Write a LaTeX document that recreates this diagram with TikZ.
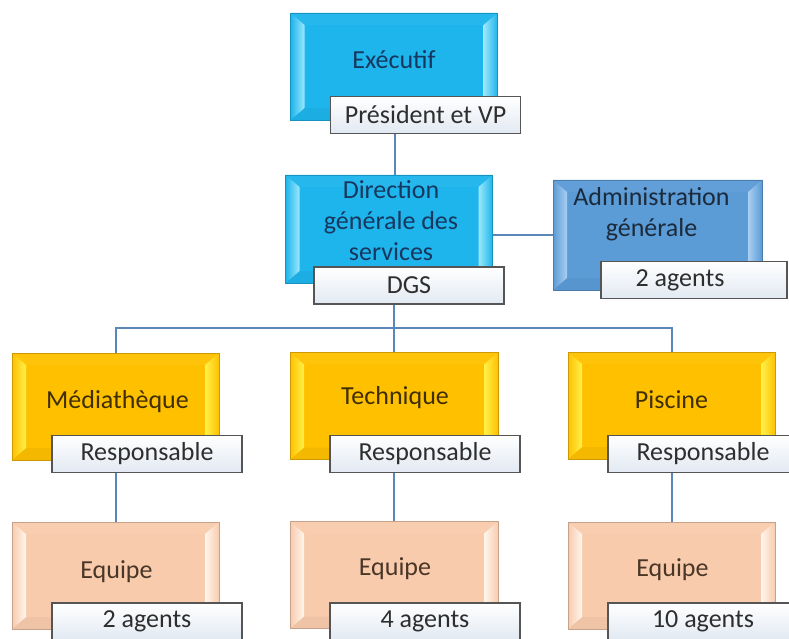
\documentclass[tikz,border=0pt]{standalone}
\usepackage{fontspec}
\setmainfont{Carlito}
\usetikzlibrary{backgrounds,calc}
\definecolor{cyanbase}{HTML}{1DB5EC}
\definecolor{cyanlight}{HTML}{9BE8FB}
\definecolor{cyantext}{HTML}{17375E}
\definecolor{admbase}{HTML}{5B9BD6}
\definecolor{admlight}{HTML}{A9CFF2}
\definecolor{admtext}{HTML}{1C2B3C}
\definecolor{yelbase}{HTML}{FFC000}
\definecolor{yellight}{HTML}{FFF24A}
\definecolor{yeltext}{HTML}{3F2F00}
\definecolor{pchbase}{HTML}{F8CBAD}
\definecolor{pchlight}{HTML}{FFF6EE}
\definecolor{pchtext}{HTML}{4A3626}
\definecolor{lblborder}{HTML}{555555}
\definecolor{lblbottom}{HTML}{E2E9F2}
\definecolor{lbltext}{HTML}{2E2E2E}
\definecolor{conn}{HTML}{5A86B8}
\tikzset{
  bevelbox/.style 2 args={rectangle, minimum width=207pt, minimum height=107pt,
    inner sep=0pt, fill=#1, draw=#1!80!black, line width=0.6pt,
    path picture={
      \coordinate (nw) at (path picture bounding box.north west);
      \coordinate (se) at (path picture bounding box.south east);
      \coordinate (sw) at (nw |- se);
      \coordinate (ne) at (se |- nw);
      \fill[#1!96!white] (nw) -- (ne) -- ($(ne)+(-14pt,-12pt)$) -- ($(nw)+(14pt,-12pt)$) -- cycle;
      \fill[#1!96!black] (sw) -- (se) -- ($(se)+(-14pt,12pt)$) -- ($(sw)+(14pt,12pt)$) -- cycle;
      \shade[left color=#1, right color=#2] (nw) -- (sw) -- ($(sw)+(14pt,12pt)$) -- ($(nw)+(14pt,-12pt)$) -- cycle;
      \shade[left color=#2, right color=#1] (ne) -- (se) -- ($(se)+(-14pt,12pt)$) -- ($(ne)+(-14pt,-12pt)$) -- cycle;
    }},
  lbl/.style={rectangle, minimum width=190pt, minimum height=37pt, inner sep=0pt,
    draw=lblborder, line width=1.2pt, top color=white, bottom color=lblbottom,
    text=lbltext, font=\fontsize{26}{31}\selectfont},
  boxtext/.style={align=center, inner sep=0pt, font=\fontsize{26}{31}\selectfont, text=#1},
  link/.style={draw=conn, line width=2pt}
}
\begin{document}
\begin{tikzpicture}[x=1pt,y=-1pt]
\useasboundingbox (0,0) rectangle (789,639);
% boxes
\node[bevelbox={cyanbase}{cyanlight}] (exec) at (394,66.5) {};
\node[bevelbox={cyanbase}{cyanlight}, minimum height=108pt] (dir) at (389,229) {};
\node[bevelbox={admbase}{admlight}, minimum width=209pt, minimum height=110pt] (adm) at (657.5,235) {};
\node[bevelbox={yelbase}{yellight}] (med) at (115.5,406.5) {};
\node[bevelbox={yelbase}{yellight}, minimum width=208pt] (tech) at (394,406) {};
\node[bevelbox={yelbase}{yellight}] (pisc) at (671.5,405.5) {};
\node[bevelbox={pchbase}{pchlight}] (eqL) at (115.5,575.5) {};
\node[bevelbox={pchbase}{pchlight}, minimum width=208pt] (eqM) at (394,575) {};
\node[bevelbox={pchbase}{pchlight}] (eqR) at (671.5,575.5) {};
% box texts
\node[boxtext=cyantext] (exect) at ($(exec.center)+(0pt,6.5pt)$) {Exécutif};
\node[boxtext=cyantext] (dirt) at ($(dir.center)+(2pt,8pt)$) {Direction\\générale des\\services};
\node[boxtext=admtext] (admt) at ($(adm.center)+(-6pt,21pt)$) {Administration\\générale};
\node[boxtext=yeltext] (medt) at ($(med.center)+(2pt,5pt)$) {Médiathèque};
\node[boxtext=yeltext] (techt) at ($(tech.center)+(1pt,8pt)$) {Technique};
\node[boxtext=yeltext] (pisct) at ($(pisc.center)+(0pt,5.5pt)$) {Piscine};
\node[boxtext=pchtext] (eqLt) at ($(eqL.center)+(1pt,4pt)$) {Equipe};
\node[boxtext=pchtext] (eqMt) at ($(eqM.center)+(1pt,6pt)$) {Equipe};
\node[boxtext=pchtext] (eqRt) at ($(eqR.center)+(1pt,5.5pt)$) {Equipe};
% labels
\node[lbl] (execl) at (425.5,115) {Président et VP};
\node[lbl] (dgs) at (409,285.5) {DGS};
\node[lbl, minimum width=186pt] (adml) at (694,280) {2 agents\hspace*{28pt}};
\node[lbl] (medl) at (147,454) {Responsable};
\node[lbl] (techl) at (425,454) {Responsable};
\node[lbl] (piscl) at (703,454) {Responsable};
\node[lbl] (eqLl) at (147,621.5) {2 agents};
\node[lbl] (eqMl) at (425,621.5) {4 agents};
\node[lbl] (eqRl) at (703,621.5) {10 agents};
% connectors
\coordinate (bus) at (394,328);
\coordinate (exdown) at ($(exec.south)+(1pt,0pt)$);
\begin{scope}[on background layer]
  \draw[link] (exdown) -- (exdown |- dir.north);
  \draw[link] (adm.west) -- (adm.west -| dir.east);
  \draw[link] (tech.north |- dgs.south) -- (tech.north);
  \draw[link] (med.north) -- (med.north |- bus) -- (pisc.north |- bus) -- (pisc.north);
  \draw[link] (medl.south -| med.south) -- (eqL.north);
  \draw[link] (techl.south -| tech.south) -- (eqM.north);
  \draw[link] (piscl.south -| pisc.south) -- (eqR.north);
\end{scope}
\end{tikzpicture}
\end{document}
